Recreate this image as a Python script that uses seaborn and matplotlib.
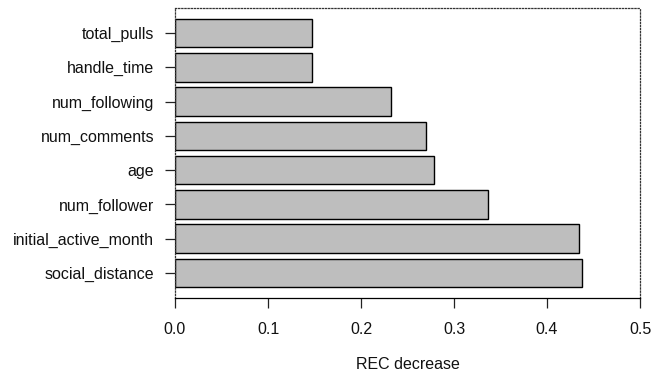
import matplotlib
matplotlib.use("Agg")
import matplotlib.pyplot as plt
import seaborn as sns
import pandas as pd

# data (top to bottom as drawn)
features = ["total_pulls", "handle_time", "num_following", "num_comments",
            "age", "num_follower", "initial_active_month", "social_distance"]
rec_decrease = [0.147, 0.147, 0.232, 0.270, 0.278, 0.337, 0.434, 0.438]
x_ticks = [0.0, 0.1, 0.2, 0.3, 0.4, 0.5]

df = pd.DataFrame({"feature": features, "rec": rec_decrease})

sns.set_theme(style="white")
plt.rcParams["font.family"] = ["Liberation Sans", "DejaVu Sans"]
plt.rcParams["text.color"] = "#111111"
plt.rcParams["xtick.labelcolor"] = "#111111"
plt.rcParams["ytick.labelcolor"] = "#111111"
plt.rcParams["axes.labelcolor"] = "#111111"

fig = plt.figure(figsize=(6.52, 3.75), dpi=100)
ax = fig.add_axes([175 / 652, 1 - 298 / 375, 465 / 652, 290 / 375])

sns.barplot(data=df, x="rec", y="feature", orient="h", order=features,
            color="#bebebe", saturation=1, edgecolor="black",
            linewidth=1.0, width=0.833, ax=ax)

ax.set_xlim(0, 0.5)
n = len(features)
ax.set_ylim(n - 1 + 0.4167 + 0.313, -0.4167 - 0.313)

ax.set_xticks(x_ticks)
ax.set_xticklabels([f"{t:.1f}" for t in x_ticks])
ax.set_xlabel("REC decrease", fontsize=11.5, labelpad=15)
ax.set_ylabel("")

ax.tick_params(axis="both", labelsize=11.5, length=7, width=0.9,
               color="#222222", direction="out")
ax.tick_params(axis="x", pad=10, bottom=True)
ax.tick_params(axis="y", pad=8, left=True)

for side in ["top", "right", "left"]:
    ax.spines[side].set_linestyle((0, (1, 1.5)))
    ax.spines[side].set_color("#333333")
    ax.spines[side].set_linewidth(0.9)
ax.spines["bottom"].set_color("black")
ax.spines["bottom"].set_linewidth(0.9)

plt.savefig("out.png", dpi=100)
